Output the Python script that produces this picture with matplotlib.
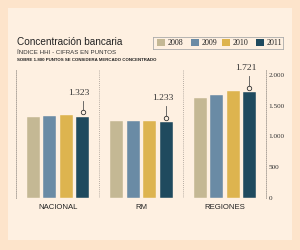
import matplotlib
matplotlib.use("Agg")
import matplotlib.pyplot as plt
from matplotlib.patches import Rectangle
import numpy as np

categories = ["NACIONAL", "RM", "REGIONES"]
years = ["2008", "2009", "2010", "2011"]
values = {
    "2008": [1310, 1245, 1627],
    "2009": [1340, 1260, 1680],
    "2010": [1355, 1255, 1735],
    "2011": [1323, 1233, 1721],
}
highlight_labels = ["1.323", "1.233", "1.721"]
yticks = [0, 500, 1000, 1500, 2000]
ytick_labels = ["0", "500", "1.000", "1.500", "2.000"]
colors = ["#C4B894", "#6A8BA5", "#DDB44F", "#1F4A5E"]

title = "Concentración bancaria"
subtitle = "ÍNDICE HHI - CIFRAS EN PUNTOS"
note = "SOBRE 1.800 PUNTOS SE CONSIDERA MERCADO CONCENTRADO"

W, H = 300, 250
fig = plt.figure(figsize=(W / 100, H / 100), dpi=100)
fig.patch.set_facecolor("#FDE4CB")
fig.add_artist(Rectangle((8 / W, 1 - 240 / H), 284 / W, 232 / H,
                         transform=fig.transFigure, facecolor="#FEF0E1",
                         edgecolor="none", zorder=0))

narrow = ["Liberation Sans Narrow", "Liberation Sans", "DejaVu Sans"]
sans = ["Liberation Sans", "DejaVu Sans"]
serif = ["Liberation Serif", "DejaVu Serif"]

fig.text(17 / W, 1 - 42 / H, title, family=narrow, fontsize=7.2, color="#222222",
         va="center", ha="left")
fig.text(17 / W, 1 - 52 / H, subtitle, family=narrow, fontsize=4.4, color="#333333",
         va="center", ha="left")
fig.text(17 / W, 1 - 60 / H, note, family=narrow, fontsize=3.2, color="#222222",
         va="center", ha="left", fontweight="bold")

# axes: x pixels 16..266, y pixel 198 (0) .. 70
ax_top_px, ax_bot_px = 70, 198
ax = fig.add_axes([16 / W, 1 - ax_bot_px / H, 250 / W, (ax_bot_px - ax_top_px) / H])
ax.set_facecolor("none")
ymax = 2000 * (ax_bot_px - ax_top_px) / (198 - 75)
ax.set_ylim(0, ymax)
ax.set_xlim(0, 3)

bw = 0.156
offs = [0.21, 0.407, 0.604, 0.80]
x = np.arange(len(categories))
for k, yr in enumerate(years):
    ax.bar(x + offs[k], values[yr], width=bw, color=colors[k], zorder=2,
           edgecolor="#FEF0E1", linewidth=0.3)

# annotations for 2011
px = ymax / (ax_bot_px - ax_top_px)  # data units per pixel
for i, lab in enumerate(highlight_labels):
    v = values["2011"][i]
    cx = x[i] + offs[3]
    ax.plot([cx, cx], [v + 5 * px, v + 16 * px], color="#555555", lw=0.6, zorder=3,
            clip_on=False)
    ax.plot(cx, v + 4.5 * px, marker="o", ms=3.2, mfc="#FEF0E1", mec="#333333",
            mew=0.6, zorder=4, clip_on=False)
    ax.text(cx - 0.04, v + 24 * px, lab, family=serif, fontsize=6.8, color="#333333",
            ha="center", va="center")

for s in ["top", "bottom"]:
    ax.spines[s].set_visible(False)
for s in ["left", "right"]:
    ax.spines[s].set_linestyle((0, (1, 1.5)))
    ax.spines[s].set_color("#A09890")
    ax.spines[s].set_linewidth(0.6)
for xv in [1, 2]:
    ax.axvline(xv, color="#A09890", lw=0.6, ls=(0, (1, 1.5)), zorder=1)

ax.yaxis.tick_right()
ax.set_yticks(yticks)
ax.set_yticklabels(ytick_labels, family=serif, fontsize=5.2, color="#333333")
ax.tick_params(axis="y", length=0, pad=2)
ax.set_xticks(x + 0.5)
ax.set_xticklabels(categories, family=sans, fontsize=5.6, color="#222222")
ax.tick_params(axis="x", length=0, pad=4)

# legend
leg_ax = fig.add_axes([153 / W, 1 - 48.7 / H, 130 / W, 12 / H])
leg_ax.set_xlim(0, 130)
leg_ax.set_ylim(0, 12)
leg_ax.set_xticks([])
leg_ax.set_yticks([])
leg_ax.set_facecolor("none")
for s in leg_ax.spines.values():
    s.set_color("#AAAAAA")
    s.set_linewidth(0.6)
patch_x = [4, 38, 69, 103]
for k, yr in enumerate(years):
    leg_ax.add_patch(Rectangle((patch_x[k], 2.5), 8, 7.5, facecolor=colors[k],
                               edgecolor="none"))
    leg_ax.text(patch_x[k] + 11, 6, yr, family=serif, fontsize=5.8, color="#222222",
                va="center", ha="left")

fig.savefig("out.png", dpi=100, facecolor=fig.get_facecolor())
